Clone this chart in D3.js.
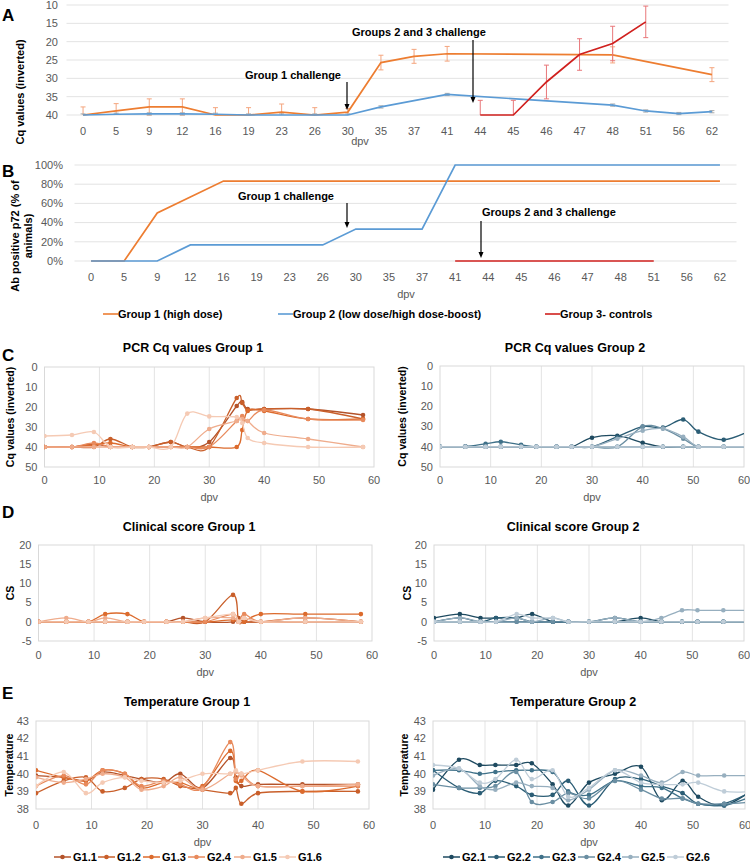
<!DOCTYPE html>
<html>
<head>
<meta charset="utf-8">
<script src="https://cdn.jsdelivr.net/npm/d3@7"></script>
<style>
  body { margin: 0; background: #fff; }
  text { font-family: "Liberation Sans", Arial, sans-serif; }
</style>
</head>
<body>
<svg width="750" height="865"></svg>
<script>
const N = null

// panels A and B share the category axis (days post vaccination)
const daysAB = ['0','5','9','12','16','19','23','26','30','35','37','41','44','45','46','47','48','51','56','62']

const cqG1    = [40,38.9,37.8,37.8,40,40,39.2,40,39.2,25.7,24,23.3,N,N,N,N,23.6,N,N,29]
const cqG1err = [2.2,2,2.2,2.2,2,2,2.2,2,1,2,1.9,2,N,N,N,N,2.2,N,N,1.9]
const cqG2    = [40,39.8,39.7,39.7,39.8,40,40,40,40,37.8,N,34.4,N,N,N,N,37.3,38.9,39.6,39.1]
const cqG2err = [0.3,0.3,0.3,0.3,0.3,0.3,0.3,0.3,0.3,0.3,N,0.3,N,N,N,N,0.3,0.3,0.3,0.3]
const cqG3    = [N,N,N,N,N,N,N,N,N,N,N,N,40,40,31,23.5,20.5,14.6,N,N]
const cqG3err = [N,N,N,N,N,N,N,N,N,N,N,N,4,4,4.6,4.3,4.7,4.3,N,N]

const abG1 = [0,0,50,66.7,83.3,83.3,83.3,83.3,83.3,83.3,83.3,83.3,83.3,83.3,83.3,83.3,83.3,83.3,83.3,83.3]
const abG2 = [0,0,0,16.7,16.7,16.7,16.7,16.7,33.3,33.3,33.3,100,100,100,100,100,100,100,100,100]
const abG3 = [N,N,N,N,N,N,N,N,N,N,N,0,0,0,0,0,0,0,N,N]

const groupNames = ['Group 1 (high dose)', 'Group 2 (low dose/high dose-boost)', 'Group 3- controls']

// individual animals
const daysG1 = [0,5,9,12,16,19,23,26,30,35,36,37,40,48,58]
const daysG2 = [0,5,9,12,16,19,23,26,30,35,40,44,48,51,56,62]
const namesG1 = ['G1.1','G1.2','G1.3','G2.4','G1.5','G1.6']
const namesG2 = ['G2.1','G2.2','G2.3','G2.4','G2.5','G2.6']

const pcrG1 = [
  [40,40,38.5,40,40,40,37.5,40,37.5,19.5,17.5,21,21,21,24],
  [40,40,40,36,40,40,37.5,40,40,15.5,18,21.5,21,21,26],
  [40,40,39,38,40,40,40,40,40,40,31.5,22,22,26,26],
  [40,40,38,40,40,40,40,40,40,27,24.5,27,21.5,26,26.5],
  [40,40,40,40,40,40,40,40,31,27,26,27,33,36,40],
  [34.5,34,32.5,40,40,40,40,23.3,24.7,25,28,35.5,38,40,40]
]
const pcrG2 = [
  [40,40,40,40,40,40,40,40,35.5,34.5,38,40,40,40,40,40],
  [40,40,40,40,40,40,40,40,40,35,30,30.5,26.5,32.5,36.5,31],
  [40,39.8,38.5,37.5,39,40,40,40,40,40,40,40,40,40,40,40],
  [40,40,40,40,40,40,40,40,40,40,30,31,36,40,40,40],
  [40,40,40,40,40,40,40,40,40,36,32,31,35,40,40,40],
  [40,40,40,40,40,40,40,40,40,40,40,40,40,40,40,40]
]

const csG1 = [
  [0,0,0,0,0,0,0,1,0,0,1,0,0,0,0],
  [0,0,0,0,0,0,0,0,0,7,0,0,0,1,0],
  [0,0,0,2,2,0,0,0,0,0.5,0,0,2,2,2],
  [0,0,0,0,0,0,0,0,0,2,0,2,0,0,0],
  [0,1,0,1,0,0,0,0,1,1,0,1,0,1,0],
  [0,0,0,0,0,0,0,0,1,2,0,1,0,0,0]
]
const csG2 = [
  [1,2,1,1,1,2,0,0,0,0,1,0,0,0,0,0],
  [0,1,0,1,1,0,0,0,0,1,0,0,0,0,0,0],
  [0,0,0,0,0,0,0,0,0,0,0,0,0,0,0,0],
  [0,0,0,0,0,0,0,0,0,0,0,0,0,0,0,0],
  [0,1,0,0,1,0,1,0,0,1,0,1,3,3,3,3],
  [0,0,0,0,2,1,1,0,0,0,0,0,0,0,0,0]
]

const tempG1 = [
  [39.9,39.8,39.6,40.1,39.9,39.7,39.5,40.0,39.2,40.9,39.8,39.3,39.4,39.4,39.4],
  [38.9,39.6,39.8,39.0,39.2,39.7,39.7,39.3,39.1,38.9,39.2,38.3,38.9,39.0,39.0],
  [40.2,39.8,39.6,40.2,40.0,39.2,39.5,39.5,39.3,41.3,39.6,39.6,40.2,39.0,39.3],
  [39.3,39.9,39.4,40.2,40.0,39.3,39.6,39.4,39.2,41.8,39.7,40.0,39.3,39.3,39.3],
  [39.8,39.5,39.7,40.0,39.8,39.1,39.3,39.8,39.1,40.0,40.1,39.9,39.3,39.3,39.4],
  [39.3,40.1,38.9,39.5,39.8,39.6,39.5,39.6,40.0,40.0,40.2,40.0,40.2,40.7,40.7]
]
const tempG2 = [
  [39.1,40.8,40.5,40.5,40.5,40.6,39.4,38.2,39.5,40.0,40.4,38.5,39.6,38.7,38.2,39.2],
  [40.2,39.2,38.9,39.6,39.3,38.8,38.8,39.6,38.2,39.7,39.7,39.3,38.9,38.3,38.3,39.1],
  [40.2,40.2,40.0,40.1,40.2,40.2,40.1,39.0,38.8,39.6,39.3,39.2,38.6,38.3,38.2,38.8],
  [39.4,39.2,39.2,39.3,40.1,38.4,38.4,38.9,38.6,39.6,39.1,38.6,38.6,38.3,38.3,38.4],
  [39.9,40.3,39.3,39.1,39.5,39.3,39.2,38.5,39.1,40.2,39.9,39.5,40.1,39.9,39.9,39.9],
  [40.5,40.3,39.5,39.7,40.8,39.7,40.2,38.7,39.2,40.2,39.5,39.4,39.4,39.5,39.0,39.0]
]

const groupColors = ['#ED7D31', '#5B9BD5', '#D0201E']
const errColors = ['#F4A57E', '#A9A9A9', '#E8777A']
const orangeShades = ['#B4532A','#C95F2A','#DC6B2D','#E88A5C','#EFAC8C','#F5CAB4']
const blueShades = ['#1E4A60','#2B5D75','#3F7189','#6A8EA2','#97AFBF','#BFCDD8']

const svg = d3.select('svg')
const tickCol = '#595959'
const gridCol = '#e3e3e3'

function panelLetter(t, x, y) {
  svg.append('text').attr('x', x).attr('y', y).text(t)
    .attr('font-size', 17).attr('font-weight', 700)
}

function arrow(x, y1, y2) {
  svg.append('line').attr('x1', x).attr('x2', x).attr('y1', y1).attr('y2', y2 - 5)
    .attr('stroke', '#000').attr('stroke-width', 1.2)
  svg.append('path').attr('d', `M${x - 2.5},${y2 - 6}L${x + 2.5},${y2 - 6}L${x},${y2}Z`).attr('fill', '#000')
}

function boldLabel(t, x, y, anchor) {
  svg.append('text').attr('x', x).attr('y', y).text(t)
    .attr('font-size', 11).attr('font-weight', 700).attr('text-anchor', anchor || 'start')
}

// ---------- category charts (A, B) ----------
function categoryChart(o) {
  let x = d3.scaleBand().domain(daysAB).range(o.xr)
  let y = d3.scaleLinear().domain(o.yd).range(o.yr)
  let g = svg.append('g')
  let xm = d => x(d) + x.bandwidth() / 2

  g.selectAll('line.grid').data(o.yticks).enter().append('line')
      .attr('x1', o.xr[0]).attr('x2', o.xr[1])
      .attr('y1', d => y(d)).attr('y2', d => y(d))
      .attr('stroke', gridCol)

  g.selectAll('text.yt').data(o.yticks).enter().append('text')
      .attr('x', o.ytx).attr('y', d => y(d)).attr('dy', '0.35em')
      .attr('text-anchor', 'end').attr('font-size', 11).attr('fill', tickCol)
      .text(o.yfmt)

  g.selectAll('text.xt').data(daysAB).enter().append('text')
      .attr('x', d => xm(d)).attr('y', o.xty)
      .attr('text-anchor', 'middle').attr('font-size', 11).attr('fill', tickCol)
      .text(d => d)

  g.append('text').attr('x', o.dpv[0]).attr('y', o.dpv[1]).attr('text-anchor', 'middle')
      .attr('font-size', 11).attr('fill', tickCol).text('dpv')

  let line = d3.line().x(d => xm(d.day)).y(d => y(d.v))

  o.series.forEach((s, i) => {
    let pts = daysAB.map((d, j) => ({ day: d, v: s.values[j], e: s.err ? s.err[j] : null }))
      .filter(p => p.v != null)
    if (s.err) {
      pts.filter(p => p.e != null).forEach(p => {
        let lo = Math.max(p.v - p.e, o.yd[0]), hi = Math.min(p.v + p.e, o.yd[1])
        g.append('line').attr('x1', xm(p.day)).attr('x2', xm(p.day))
          .attr('y1', y(lo)).attr('y2', y(hi)).attr('stroke', errColors[i])
        if (p.v - p.e >= o.yd[0])
          g.append('line').attr('x1', xm(p.day) - 2.5).attr('x2', xm(p.day) + 2.5)
            .attr('y1', y(lo)).attr('y2', y(lo)).attr('stroke', errColors[i])
        if (p.v + p.e <= o.yd[1])
          g.append('line').attr('x1', xm(p.day) - 2.5).attr('x2', xm(p.day) + 2.5)
            .attr('y1', y(hi)).attr('y2', y(hi)).attr('stroke', errColors[i])
      })
    }
    g.append('path').datum(pts).attr('d', line).attr('fill', 'none')
      .attr('stroke', groupColors[i]).attr('stroke-width', 1.7)
  })
}

// Panel A
panelLetter('A', 2, 21)
categoryChart({
  xr: [66.5, 728.5], yd: [10, 40], yr: [5, 115],
  yticks: [10, 15, 20, 25, 30, 35, 40], yfmt: d => d, ytx: 58, xty: 135, dpv: [360, 145],
  series: [
    { values: cqG1, err: cqG1err },
    { values: cqG2, err: cqG2err },
    { values: cqG3, err: cqG3err }
  ]
})
svg.append('text').attr('transform', 'translate(24,92) rotate(-90)').attr('text-anchor', 'middle')
  .attr('font-size', 11).attr('font-weight', 700).text('Cq values (inverted)')
boldLabel('Group 1 challenge', 245, 79)
arrow(347, 82, 110)
boldLabel('Groups 2 and 3 challenge', 352, 36)
arrow(473, 40, 103)

// Panel B
panelLetter('B', 2, 177)
categoryChart({
  xr: [74.5, 736.5], yd: [0, 100], yr: [261, 165],
  yticks: [0, 20, 40, 60, 80, 100], yfmt: d => d + '%', ytx: 63, xty: 281, dpv: [406, 298],
  series: [
    { values: abG1 },
    { values: abG2 },
    { values: abG3 }
  ]
})
svg.append('text').attr('transform', 'translate(19,236) rotate(-90)').attr('text-anchor', 'middle')
  .attr('font-size', 11).attr('font-weight', 700).text('Ab positive p72 (% of')
svg.append('text').attr('transform', 'translate(32,236) rotate(-90)').attr('text-anchor', 'middle')
  .attr('font-size', 11).attr('font-weight', 700).text('animals)')
boldLabel('Group 1 challenge', 238, 200)
arrow(347, 203, 228)
boldLabel('Groups 2 and 3 challenge', 482, 216)
arrow(481, 221, 258)

// legend for A/B
let legX = [103, 278, 545]
groupNames.forEach((n, i) => {
  svg.append('line').attr('x1', legX[i]).attr('x2', legX[i] + 15).attr('y1', 314).attr('y2', 314)
    .attr('stroke', groupColors[i]).attr('stroke-width', 1.6)
  boldLabel(n, legX[i] + 15, 318)
})

// ---------- numeric charts (C, D, E) ----------
let clipId = 0
function numChart(o) {
  let x = d3.scaleLinear().domain([0, 60]).range(o.xr)
  let y = d3.scaleLinear().domain(o.yd).range(o.yr)
  let g = svg.append('g')
  let top = Math.min(o.yr[0], o.yr[1]), bot = Math.max(o.yr[0], o.yr[1])

  g.append('text').attr('x', o.title[1]).attr('y', o.title[2]).attr('text-anchor', 'middle')
    .attr('font-size', 12.5).attr('font-weight', 700).text(o.title[0])

  g.selectAll('line.vg').data([10, 20, 30, 40, 50]).enter().append('line')
    .attr('x1', d => x(d)).attr('x2', d => x(d)).attr('y1', top).attr('y2', bot)
    .attr('stroke', gridCol)
  g.append('rect').attr('x', o.xr[0]).attr('y', top).attr('width', o.xr[1] - o.xr[0])
    .attr('height', bot - top).attr('fill', 'none').attr('stroke', '#d9d9d9')

  g.selectAll('text.yt').data(o.yticks).enter().append('text')
    .attr('x', o.xr[0] - 7).attr('y', d => y(d)).attr('dy', '0.35em')
    .attr('text-anchor', 'end').attr('font-size', 11).attr('fill', tickCol).text(d => d)
  g.selectAll('text.xt').data([0, 10, 20, 30, 40, 50, 60]).enter().append('text')
    .attr('x', d => x(d)).attr('y', o.xty).attr('text-anchor', 'middle')
    .attr('font-size', 11).attr('fill', tickCol).text(d => d)
  g.append('text').attr('x', x(30)).attr('y', o.xty + 17).attr('text-anchor', 'middle')
    .attr('font-size', 11).attr('fill', tickCol).text('dpv')

  g.append('text').attr('transform', `translate(${o.ytitle[1]},${(top + bot) / 2}) rotate(-90)`)
    .attr('text-anchor', 'middle').attr('font-size', 10.5).attr('font-weight', 700).text(o.ytitle[0])

  let id = 'clip' + (clipId++)
  svg.append('clipPath').attr('id', id).append('rect')
    .attr('x', o.xr[0]).attr('y', top - 4).attr('width', o.xr[1] - o.xr[0]).attr('height', bot - top + 8)
  let plot = g.append('g').attr('clip-path', `url(#${id})`)

  let line = d3.line().x(d => x(d[0])).y(d => y(d[1])).curve(d3.curveCardinal.tension(0))
  o.data.forEach((vals, i) => {
    let pts = o.days.map((d, j) => [d, vals[j]])
    plot.append('path').datum(pts).attr('d', line).attr('fill', 'none')
      .attr('stroke', o.colors[i]).attr('stroke-width', 1.3)
    plot.selectAll(null).data(pts).enter().append('circle')
      .attr('cx', d => x(d[0])).attr('cy', d => y(d[1])).attr('r', 2.3).attr('fill', o.colors[i])
  })

  if (o.legend) {
    o.legend.names.forEach((n, i) => {
      let tx = o.legend.xs[i], ly = o.legend.y
      g.append('line').attr('x1', tx - 19).attr('x2', tx - 2).attr('y1', ly).attr('y2', ly)
        .attr('stroke', o.colors[i]).attr('stroke-width', 1.5)
      g.append('circle').attr('cx', tx - 10.5).attr('cy', ly).attr('r', 2.3).attr('fill', o.colors[i])
      g.append('text').attr('x', tx).attr('y', ly + 4).attr('font-size', 11).attr('font-weight', 700)
        .text(n)
    })
  }
}

// Panel C
panelLetter('C', 2, 361)
numChart({ xr: [44.5, 374], yd: [0, 50], yr: [367, 467], yticks: [0, 10, 20, 30, 40, 50], xty: 484,
  title: ['PCR Cq values Group 1', 193, 352], ytitle: ['Cq values (inverted)', 14],
  days: daysG1, data: pcrG1, colors: orangeShades })
numChart({ xr: [440, 744], yd: [0, 50], yr: [366, 467], yticks: [0, 10, 20, 30, 40, 50], xty: 484,
  title: ['PCR Cq values Group 2', 575, 352], ytitle: ['Cq values (inverted)', 406],
  days: daysG2, data: pcrG2, colors: blueShades })

// Panel D
panelLetter('D', 2, 518)
numChart({ xr: [38.5, 372], yd: [-5, 20], yr: [641, 545], yticks: [-5, 0, 5, 10, 15, 20], xty: 659,
  title: ['Clinical score Group 1', 189, 531], ytitle: ['CS', 14],
  days: daysG1, data: csG1, colors: orangeShades })
numChart({ xr: [434, 744], yd: [-5, 20], yr: [641, 545], yticks: [-5, 0, 5, 10, 15, 20], xty: 659,
  title: ['Clinical score Group 2', 573, 531], ytitle: ['CS', 411],
  days: daysG2, data: csG2, colors: blueShades })

// Panel E
panelLetter('E', 2, 699)
numChart({ xr: [36, 369], yd: [38, 43], yr: [809, 721], yticks: [38, 39, 40, 41, 42, 43], xty: 829,
  title: ['Temperature Group 1', 187, 706], ytitle: ['Temperature', 13],
  days: daysG1, data: tempG1, colors: orangeShades,
  legend: { names: namesG1, xs: [73, 117, 162, 207, 253, 298], y: 857 } })
numChart({ xr: [433, 745], yd: [38, 43], yr: [809, 721], yticks: [38, 39, 40, 41, 42, 43], xty: 829,
  title: ['Temperature Group 2', 573, 706], ytitle: ['Temperature', 408],
  days: daysG2, data: tempG2, colors: blueShades,
  legend: { names: namesG2, xs: [462, 507, 552, 597, 641, 686], y: 857 } })
</script>
</body>
</html>
